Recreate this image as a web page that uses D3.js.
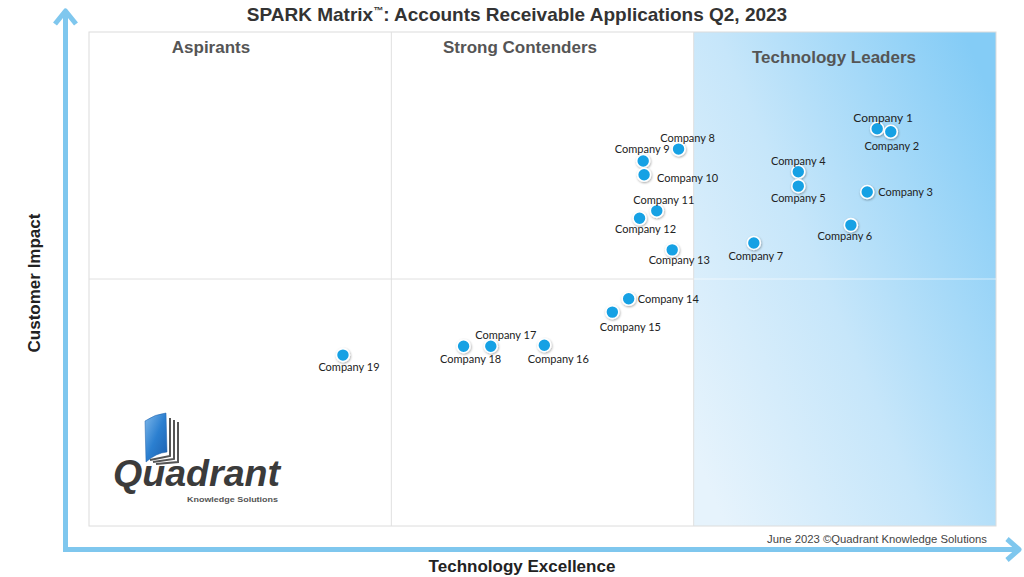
<!DOCTYPE html>
<html>
<head>
<meta charset="utf-8">
<script src="https://cdn.jsdelivr.net/npm/d3@7"></script>
<style>
  html, body { margin: 0; padding: 0; background: #fff; }
  svg { display: block; }
</style>
</head>
<body>
<svg id="chart" width="1024" height="577"></svg>
<script>
// ---- data ----
const companies = ["Company 1","Company 2","Company 3","Company 4","Company 5","Company 6","Company 7",
  "Company 8","Company 9","Company 10","Company 11","Company 12","Company 13","Company 14",
  "Company 15","Company 16","Company 17","Company 18","Company 19"];
const technologyExcellence = [86.9, 88.4, 85.8, 78.2, 78.2, 84.0, 73.3, 65.0, 61.1, 61.2, 62.6, 60.7, 64.3, 59.5, 57.7, 50.2, 44.3, 41.3, 28.0];
const customerImpact       = [80.4, 79.8, 67.6, 71.7, 68.8, 60.9, 57.3, 76.3, 73.9, 71.1, 63.8, 62.3, 55.9, 46.0, 43.3, 36.6, 36.4, 36.4, 34.6];
const quadrantNames = ["Aspirants", "Strong Contenders", "Technology Leaders"];
const chartTitle = "SPARK Matrix";
const chartSubtitle = ": Accounts Receivable Applications Q2, 2023";
const xAxisTitle = "Technology Excellence";
const yAxisTitle = "Customer Impact";
const footerText = "June 2023 \u00A9Quadrant Knowledge Solutions";

// ---- layout (label placement relative to each dot: [dx, dy, anchor]) ----
const labelLayout = [
  [6,-11,"middle"],[1,14,"middle"],[11,0,"start"],[0,-11,"middle"],[0,12,"middle"],[-6,11,"middle"],[2,13,"middle"],
  [9,-11,"middle"],[-1,-12,"middle"],[13,3,"start"],[7,-11,"middle"],[6,11,"middle"],[7,10,"middle"],[9,0,"start"],
  [18,15,"middle"],[14,14,"middle"],[15,-11,"middle"],[7,13,"middle"],[6,12,"middle"]
];

const svg = d3.select("#chart");
const L = 89, R = 996, T = 32, B = 526;
const x = d3.scaleLinear().domain([0, 100]).range([L, R]);
const y = d3.scaleLinear().domain([0, 100]).range([B, T]);

const defs = svg.append("defs");
const g = defs.append("linearGradient").attr("id", "leadGrad")
  .attr("x1", 0).attr("y1", 0.85).attr("x2", 1).attr("y2", 0.15);
g.append("stop").attr("offset", 0).attr("stop-color", "#e6f3fc");
g.append("stop").attr("offset", 0.45).attr("stop-color", "#c6e6fa");
g.append("stop").attr("offset", 1).attr("stop-color", "#84ccf6");

const sh = defs.append("filter").attr("id", "shadow").attr("x", "-50%").attr("y", "-50%").attr("width", "200%").attr("height", "200%");
sh.append("feDropShadow").attr("dx", 0.6).attr("dy", 1).attr("stdDeviation", 0.8)
  .attr("flood-color", "#000").attr("flood-opacity", 0.35);

const bookGrad = defs.append("linearGradient").attr("id", "bookGrad")
  .attr("x1", 0).attr("y1", 0).attr("x2", 1).attr("y2", 1);
bookGrad.append("stop").attr("offset", 0).attr("stop-color", "#7fb8ea");
bookGrad.append("stop").attr("offset", 0.5).attr("stop-color", "#2b7fd0");
bookGrad.append("stop").attr("offset", 1).attr("stop-color", "#1c5fae");

// leaders background
svg.append("rect")
  .attr("x", x(200/3)).attr("y", y(100))
  .attr("width", x(100) - x(200/3)).attr("height", y(0) - y(100))
  .attr("fill", "url(#leadGrad)");

// plot frame and dividers
svg.append("rect").attr("x", L).attr("y", T).attr("width", R - L).attr("height", B - T)
  .attr("fill", "none").attr("stroke", "#dcdcdc").attr("stroke-width", 1);
[100/3, 200/3].forEach(v => {
  svg.append("line").attr("x1", x(v)).attr("x2", x(v)).attr("y1", y(0)).attr("y2", y(100))
    .attr("stroke", "#e0e0e0").attr("stroke-width", 1);
});
svg.append("line").attr("x1", x(0)).attr("x2", x(200/3)).attr("y1", y(50)).attr("y2", y(50))
  .attr("stroke", "#e0e0e0").attr("stroke-width", 1);
svg.append("line").attr("x1", x(200/3)).attr("x2", x(100)).attr("y1", y(50)).attr("y2", y(50))
  .attr("stroke", "#ffffff").attr("stroke-opacity", 0.6).attr("stroke-width", 1);

// axes arrows
const axisColor = "#7fc7ee";
svg.append("path").attr("d", `M65.5,549.5 L65.5,12 M55,24 L65.5,11 L76,24`)
  .attr("fill", "none").attr("stroke", axisColor).attr("stroke-width", 5).attr("stroke-linejoin", "round").attr("stroke-linecap", "butt");
svg.append("path").attr("d", `M63,549.5 L1018,549.5 M1007,539 L1019,549.5 L1007,560`)
  .attr("fill", "none").attr("stroke", axisColor).attr("stroke-width", 5).attr("stroke-linejoin", "round");

// title
const title = svg.append("text").attr("x", 517).attr("y", 21).attr("text-anchor", "middle")
  .attr("font-family", "Liberation Sans, Arial, sans-serif").attr("font-weight", "bold")
  .attr("font-size", 19).attr("fill", "#333");
title.append("tspan").text(chartTitle);
title.append("tspan").attr("font-size", 10).attr("dy", -7).text("\u2122");
title.append("tspan").attr("dy", 7).text(chartSubtitle);

// quadrant names
const qPos = [[211, 53], [520, 53], [834, 63]];
quadrantNames.forEach((n, i) => {
  svg.append("text").attr("x", qPos[i][0]).attr("y", qPos[i][1])
    .attr("text-anchor", "middle").attr("font-family", "Liberation Sans, Arial, sans-serif")
    .attr("font-weight", "bold").attr("font-size", 17).attr("fill", "#555").text(n);
});

// axis titles
svg.append("text").attr("transform", "translate(40,283) rotate(-90)").attr("text-anchor", "middle")
  .attr("font-family", "Liberation Sans, Arial, sans-serif").attr("font-weight", "bold")
  .attr("font-size", 17).attr("fill", "#222").text(yAxisTitle);
svg.append("text").attr("x", 522).attr("y", 572).attr("text-anchor", "middle")
  .attr("font-family", "Liberation Sans, Arial, sans-serif").attr("font-weight", "bold")
  .attr("font-size", 17).attr("fill", "#222").text(xAxisTitle);

// footer
svg.append("text").attr("x", 987).attr("y", 543).attr("text-anchor", "end")
  .attr("font-family", "Liberation Sans, Arial, sans-serif").attr("font-size", 11.3)
  .attr("fill", "#444").text(footerText);

// logo
const logo = svg.append("g");
logo.append("path").attr("d", "M145,421 Q155,414 166,413 L167,452 Q156,453 146,462 Z")
  .attr("fill", "url(#bookGrad)").attr("stroke", "#1d5fa8").attr("stroke-width", 0.5);
[[170, 418, 456], [174, 420, 459], [178, 422, 462]].forEach(([lx, y1, y2], i) => {
  logo.append("path").attr("d", `M${lx},${y1} L${lx},${y2} L${150 + i * 3},${y2 + 4 - i}`)
    .attr("fill", "none").attr("stroke", "#555").attr("stroke-width", 2);
});
logo.append("text").attr("x", 113).attr("y", 485.5)
  .attr("font-family", "Liberation Sans, Arial, sans-serif").attr("font-weight", "bold").attr("font-style", "italic")
  .attr("font-size", 37).attr("fill", "#3b3b3b")
  .attr("textLength", 167).attr("lengthAdjust", "spacingAndGlyphs").text("Quadrant");
logo.append("text").attr("x", 187).attr("y", 501.5)
  .attr("font-family", "Liberation Sans, Arial, sans-serif").attr("font-weight", "bold")
  .attr("font-size", 8).attr("fill", "#555")
  .attr("textLength", 91).attr("lengthAdjust", "spacingAndGlyphs").text("Knowledge Solutions");

// points
const pts = companies.map((c, i) => ({ name: c, tx: technologyExcellence[i], ci: customerImpact[i], lay: labelLayout[i] }));
const node = svg.append("g").selectAll("g").data(pts).join("g");
node.append("circle")
  .attr("cx", d => x(d.tx)).attr("cy", d => y(d.ci)).attr("r", 6.5)
  .attr("fill", "#14a1e4").attr("stroke", "#ffffff").attr("stroke-width", 1.6)
  .attr("filter", "url(#shadow)");
node.append("text")
  .attr("x", d => x(d.tx) + d.lay[0]).attr("y", d => y(d.ci) + d.lay[1])
  .attr("dy", "0.35em").attr("text-anchor", d => d.lay[2])
  .attr("font-family", "Lato, Open Sans, sans-serif").attr("font-size", d => d.name === "Company 1" ? 12 : 11)
  .attr("fill", "#222").text(d => d.name);
</script>
</body>
</html>
